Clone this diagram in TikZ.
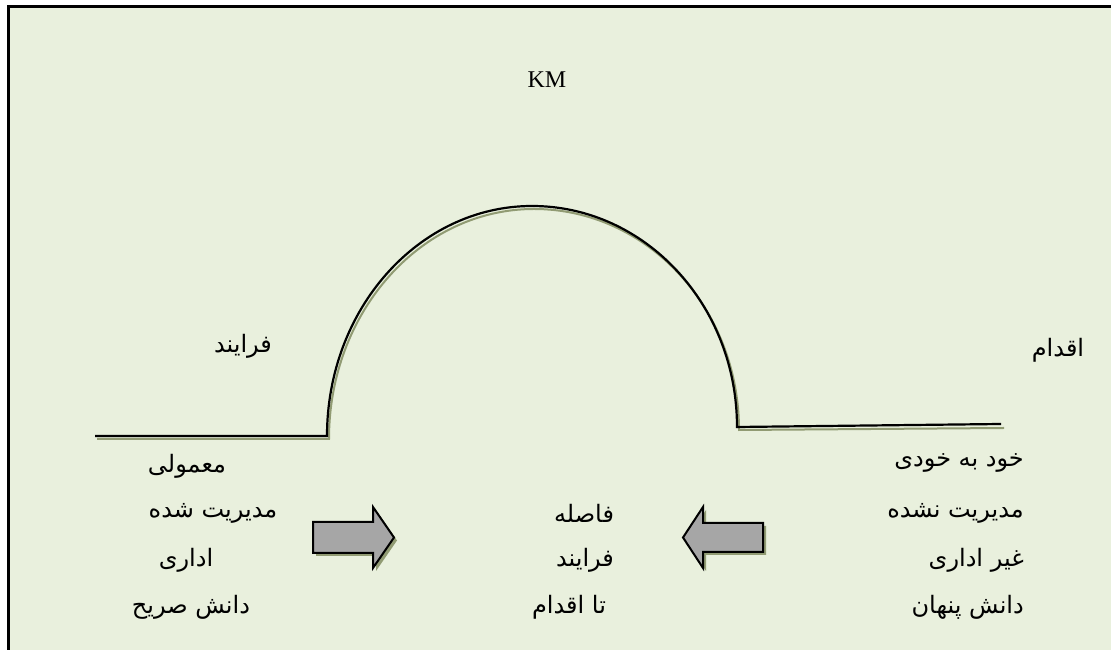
\documentclass[tikz,border=0pt]{standalone}
\usepackage{fontspec}
\setmainfont{Liberation Serif}
\newfontfamily\farsifont[Script=Arabic]{DejaVu Sans}
\TeXXeTstate=1
\usepackage{tikz}
\usetikzlibrary{positioning}
\definecolor{mybg}{RGB}{233,240,221}
\definecolor{myshadow}{RGB}{145,155,115}
\definecolor{mygray}{RGB}{166,166,166}
\tikzset{
  fatext/.style={font=\farsifont\fontsize{24}{28}\selectfont, inner sep=0pt},
  kmtext/.style={font=\fontsize{24}{28}\selectfont, inner sep=0pt},
  frameline/.style={line width=3pt, color=black},
  curveline/.style={line width=2.2pt, color=black, line join=miter},
  curveshadow/.style={line width=2pt, color=myshadow},
  blockarrow/.style={fill=mygray, draw=black, line width=2pt, line join=miter},
  arrowshadow/.style={fill=myshadow}
}
\newcommand{\fa}[1]{\beginR #1\endR}

\begin{document}
\begin{tikzpicture}[x=1pt, y=1pt]
  \useasboundingbox (0,0) rectangle (1111,650);
  % Frame
  \fill[mybg] (8.5,0) rectangle (1111,643);
  \draw[frameline] (8.5,0) -- (8.5,643) -- (1111,643);

  \node[kmtext] (km) at (547,570) {KM};

  % Curve (shadow first)
  \draw[curveshadow] (97,211) -- (329,211)
    arc[start angle=180, end angle=90, x radius=205, y radius=230]
    arc[start angle=90, end angle=0, x radius=205, y radius=221]
    -- (1004,222);
  \draw[curveline] (95,214) -- (327,214)
    arc[start angle=180, end angle=90, x radius=205, y radius=230]
    arc[start angle=90, end angle=0, x radius=205, y radius=221]
    -- (1001,226);

  % Arrows
  \fill[arrowshadow, shift={(3,-3)}] (313,97) -- (373,97) -- (373,82) -- (394,112.5) -- (373,143) -- (373,128) -- (313,128) -- cycle;
  \draw[blockarrow] (313,97) -- (373,97) -- (373,82) -- (394,112.5) -- (373,143) -- (373,128) -- (313,128) -- cycle;
  \fill[arrowshadow, shift={(3,-3)}] (763,98) -- (703,98) -- (703,82) -- (683,112.5) -- (703,143) -- (703,127) -- (763,127) -- cycle;
  \draw[blockarrow] (763,98) -- (703,98) -- (703,82) -- (683,112.5) -- (703,143) -- (703,127) -- (763,127) -- cycle;

  % Left column
  \node[fatext] (lproc) at (243,304) {\fa{فرایند}};
  \node[fatext] (lnorm) at (187,184) {\fa{معمولی}};
  \node[fatext] (lman) at (213,137) {\fa{مدیریت شده}};
  \node[fatext] (ladm) at (186,90) {\fa{اداری}};
  \node[fatext] (lexp) at (191,43) {\fa{دانش صریح}};

  % Middle column
  \node[fatext] (mgap) at (584,137) {\fa{فاصله}};
  \node[fatext] (mproc) at (585,90) {\fa{فرایند}};
  \node[fatext] (mact) at (569,43) {\fa{تا اقدام}};

  % Right column
  \node[fatext] (ract) at (1058,300) {\fa{اقدام}};
  \node[fatext, anchor=east] (rspon) at (1024,187) {\fa{خود به خودی}};
  \node[fatext, anchor=east] (rman) at (1024,137) {\fa{مدیریت نشده}};
  \node[fatext, anchor=east] (radm) at (1024,90) {\fa{غیر اداری}};
  \node[fatext, anchor=east] (rtac) at (1024,43) {\fa{دانش پنهان}};
\end{tikzpicture}
\end{document}
